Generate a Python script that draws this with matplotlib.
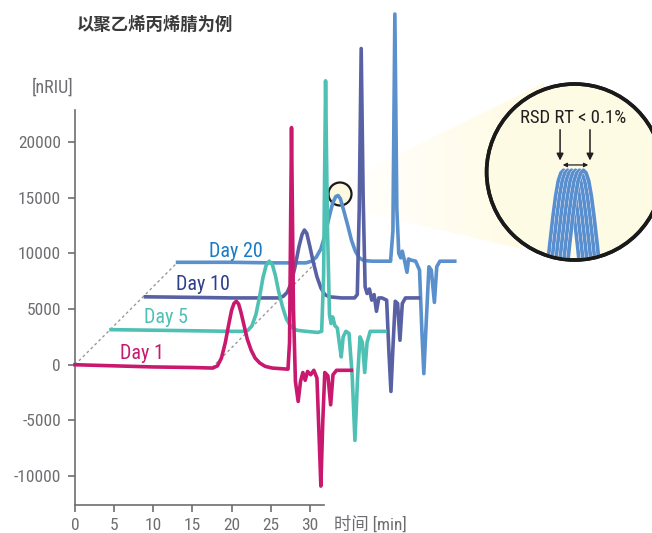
import matplotlib
matplotlib.use("Agg")
import matplotlib.pyplot as plt
import matplotlib.patheffects as pe
from matplotlib.patches import Circle, Polygon
import numpy as np

# chromatograms (time [min], signal [nRIU]), already offset
day1_x = [0, 5, 10, 15, 17.6, 18.2, 18.7, 19.2, 19.6, 20.0, 20.3, 20.6, 20.9, 21.2, 21.6, 22.0,
          22.5, 23.0, 23.6, 24.3, 25.2, 27.2, 27.4, 27.65, 27.9, 28.15, 28.5, 28.8, 29.1, 29.4,
          29.7, 30.1, 30.5, 30.9, 31.15, 31.4, 31.65, 31.9, 32.3, 32.65, 32.95, 33.4, 35.3]
day1_y = [0, -100, -200, -250, -300, -100, 600, 2000, 3500, 4900, 5500, 5700, 5450, 4700, 3500, 2300,
          1300, 600, 150, -150, -300, -400, 2000, 21300, 5000, -1500, -3300, -1500, -700, -1400,
          -600, -900, -500, -1200, -6000, -10900, -5000, -700, -1000, -3600, -900, -500, -500]

day5_x = [4.6, 10, 15, 20, 21.5, 22.1, 22.6, 23.1, 23.6, 24.0, 24.4, 24.8, 25.2, 25.6, 26.0, 26.5,
          27.0, 27.6, 28.3, 29.5, 31.0, 31.5, 31.75, 32.0, 32.25, 32.5, 32.7, 32.9, 33.2, 33.5,
          33.75, 34.0, 34.25, 34.6, 35.0, 35.4, 35.75, 36.1, 36.4, 36.7, 37.0, 37.3, 37.7, 39.6]
day5_y = [3150, 3100, 3050, 3000, 3000, 3100, 3500, 4500, 6200, 7800, 8900, 9300, 9000, 8000, 6600, 5200,
          4100, 3400, 3100, 3000, 2900, 3000, 8000, 25500, 12000, 4500, 3700, 4300, 3500, 3300,
          2000, 700, 2500, 3000, 2800, -1000, -6800, -1000, 2500, 2000, -700, 2000, 3000, 3000]

day10_x = [9.0, 15, 20, 26.0, 26.6, 27.1, 27.6, 28.1, 28.6, 29.0, 29.3, 29.6, 30.0, 30.4, 30.9, 31.4,
           31.9, 32.5, 34.0, 35.7, 36.05, 36.3, 36.55, 36.8, 37.05, 37.3, 37.6, 37.9, 38.2, 38.5,
           38.8, 39.2, 39.8, 40.1, 40.35, 40.6, 40.9, 41.2, 41.5, 41.8, 42.2, 43.9]
day10_y = [6100, 6050, 6000, 6000, 6150, 6500, 7300, 8800, 10600, 11700, 12100, 11800, 10600, 9300, 7900, 6900,
           6300, 6100, 6000, 6000, 6300, 14000, 28400, 15000, 7000, 6400, 6800, 5800, 6300, 4800,
           6000, 6000, 5800, 1000, -2400, 1500, 5700, 5500, 2200, 5500, 6000, 6000]

day20_x = [13.1, 20, 25, 29.5, 30.2, 30.8, 31.4, 31.9, 32.4, 32.9, 33.3, 33.6, 33.9, 34.3, 34.8, 35.3,
           35.8, 36.3, 36.9, 38.0, 40.3, 40.6, 40.85, 41.1, 41.35, 41.6, 41.8, 42.1, 42.4, 42.6,
           42.9, 43.5, 44.0, 44.3, 44.55, 44.8, 45.2, 45.5, 45.9, 46.2, 46.6, 48.5]
day20_y = [9200, 9200, 9150, 9150, 9300, 9650, 10400, 11600, 13100, 14500, 15100, 15200, 14900, 13900, 12600, 11200,
           10200, 9600, 9350, 9300, 9300, 12000, 31500, 14000, 10000, 9600, 10200, 9300, 8300, 9500,
           9400, 9300, 8500, 3000, -800, 3000, 8800, 8500, 5600, 8800, 9300, 9300]

# perspective guides (dotted)
guide1_x = [0, 13.1]
guide1_y = [0, 9200]
guide2_x = [17.5, 30.8]
guide2_y = [-250, 9200]

labels = ["Day 1", "Day 5", "Day 10", "Day 20"]
label_x = [8.6, 11.6, 16.3, 20.6]
label_y = [1050, 4200, 7250, 10200]

# zoomed peak apex in the inset: relative retention shifts and peak profile
inset_rt = [-0.125, -0.08, -0.035, 0.01, 0.055, 0.1]
prof_dx = [-0.19, -0.16, -0.12, -0.09, -0.06, -0.03, 0, 0.03, 0.06, 0.09, 0.12, 0.16, 0.19]
prof_y = [-1.15, -0.85, -0.50, -0.27, -0.10, -0.01, 0.02, -0.01, -0.10, -0.27, -0.50, -0.85, -1.15]

c_day1 = "#c9196f"
c_day5 = "#4fc0b4"
c_day10 = "#5861a4"
c_day20 = "#5a90cc"
lab_colors = ["#c9196f", "#4fc0b4", "#2d3f8c", "#1a7bc4"]
gray = "#6d6e71"

latin = ["Roboto Condensed", "Liberation Sans Narrow", "Roboto", "DejaVu Sans"]
plt.rcParams["font.family"] = latin
plt.rcParams["axes.unicode_minus"] = False

fig = plt.figure(figsize=(6.52, 5.33), dpi=100)

# pixel overlay for the magnifier cone and small circle
ov = fig.add_axes([0, 0, 1, 1], zorder=0)
ov.set_xlim(0, 652)
ov.set_ylim(533, 0)
ov.axis("off")
cone = Polygon([(338, 184), (544, 83), (522, 249), (338, 206)], closed=True,
               facecolor="none", edgecolor="none")
ov.add_patch(cone)
grad = np.zeros((1, 256, 4))
grad[..., 0] = 1.0
grad[..., 1] = 0.985
grad[..., 2] = 0.89
grad[..., 3] = np.linspace(0.0, 1.0, 256)
im = ov.imshow(grad, extent=(338, 544, 249, 83), aspect="auto", interpolation="bilinear")
im.set_clip_path(cone)
ov.add_patch(Circle((340, 194), 11.5, facecolor="#fdf9e1", edgecolor="#1a1a1a", lw=1.6))

ax = fig.add_axes([75 / 652, 28 / 533, 249 / 652, 395 / 533], zorder=2)
ax.patch.set_visible(False)
ax.set_xlim(0, 31.8)
ax.set_ylim(-12600, 22880)

ax.plot(guide1_x, guide1_y, color="#9a9a9a", lw=1.0, ls=(0, (2, 2)), zorder=1, clip_on=False)
ax.plot(guide2_x, guide2_y, color="#9a9a9a", lw=1.0, ls=(0, (2, 2)), zorder=1, clip_on=False)

lw = 2.6
ax.plot(day20_x, day20_y, color=c_day20, lw=lw, zorder=2, clip_on=False, solid_joinstyle="round")
ax.plot(day10_x, day10_y, color=c_day10, lw=lw, zorder=3, clip_on=False, solid_joinstyle="round")
ax.plot(day5_x, day5_y, color=c_day5, lw=lw, zorder=4, clip_on=False, solid_joinstyle="round")
ax.plot(day1_x, day1_y, color=c_day1, lw=lw, zorder=5, clip_on=False, solid_joinstyle="round")

for t, x, y, c in zip(labels, label_x, label_y, lab_colors):
    ax.text(x, y, t, color=c, fontsize=14.5, ha="center", va="center", zorder=6)

for s in ["top", "right"]:
    ax.spines[s].set_visible(False)
for s in ["left", "bottom"]:
    ax.spines[s].set_color(gray)
    ax.spines[s].set_linewidth(1.2)
ax.set_xticks([0, 5, 10, 15, 20, 25, 30])
ax.set_yticks([-10000, -5000, 0, 5000, 10000, 15000, 20000])
ax.tick_params(direction="out", length=5, width=1.2, color=gray, labelcolor=gray,
               labelsize=12.5, pad=5)
ax.tick_params(axis="x", pad=4)

fig.text(53 / 652, 1 - 88 / 533, "[nRIU]", color=gray, fontsize=13, ha="center", va="center")
fig.text(334 / 652, 1 - 524 / 533, "时间 [min]", color=gray, fontsize=12.5, ha="left", va="center",
         family=latin[:3] + ["Noto Sans CJK SC"])
fig.text(77 / 652, 1 - 25 / 533, "以聚乙烯丙烯腈为例", color="#3a3a3a", fontsize=12.5,
         fontweight="bold", ha="left", va="center", family=["Noto Sans CJK SC", "DejaVu Sans"])

# magnified apex inset
cx, cy, r = 574.6, 172, 88
ins = fig.add_axes([(cx - r) / 652, (533 - cy - r) / 533, 2 * r / 652, 2 * r / 533], zorder=3)
ins.set_xlim(-1, 1)
ins.set_ylim(-1, 1)
ins.axis("off")
disk = Circle((0.5, 0.5), 0.5, transform=ins.transAxes, facecolor="#fdfbe3",
              edgecolor="#1a1a1a", lw=2.6, clip_on=False, zorder=1)
ins.add_patch(disk)
clipc = Circle((0.5, 0.5), 0.49, transform=ins.transAxes, facecolor="none", edgecolor="none")
ins.add_patch(clipc)
for rt in inset_rt:
    ln, = ins.plot([rt + d for d in prof_dx], prof_y, color="#5a8fcf", lw=2.7, zorder=2,
                   solid_joinstyle="round",
                   path_effects=[pe.Stroke(linewidth=3.1, foreground="white"), pe.Normal()])
    ln.set_clip_path(clipc)
ins.add_patch(Circle((0.5, 0.5), 0.5, transform=ins.transAxes, facecolor="none",
                     edgecolor="#1a1a1a", lw=2.6, clip_on=False, zorder=4))
ins.text(-0.015, 0.61, "RSD RT < 0.1%", fontsize=13.5, color="#231f20", ha="center", va="center",
         zorder=5)
for ax_x in [-0.165, 0.175]:
    ins.annotate("", xy=(ax_x, 0.13), xytext=(ax_x, 0.48),
                 arrowprops=dict(arrowstyle="-|>", color="#231f20", lw=1.1,
                                 mutation_scale=10, shrinkA=0, shrinkB=0), zorder=5)
ins.annotate("", xy=(-0.135, 0.08), xytext=(0.155, 0.08),
             arrowprops=dict(arrowstyle="<|-|>", color="#231f20", lw=0.9,
                             mutation_scale=6, shrinkA=0, shrinkB=0), zorder=5)

fig.savefig("out.png", dpi=100)
